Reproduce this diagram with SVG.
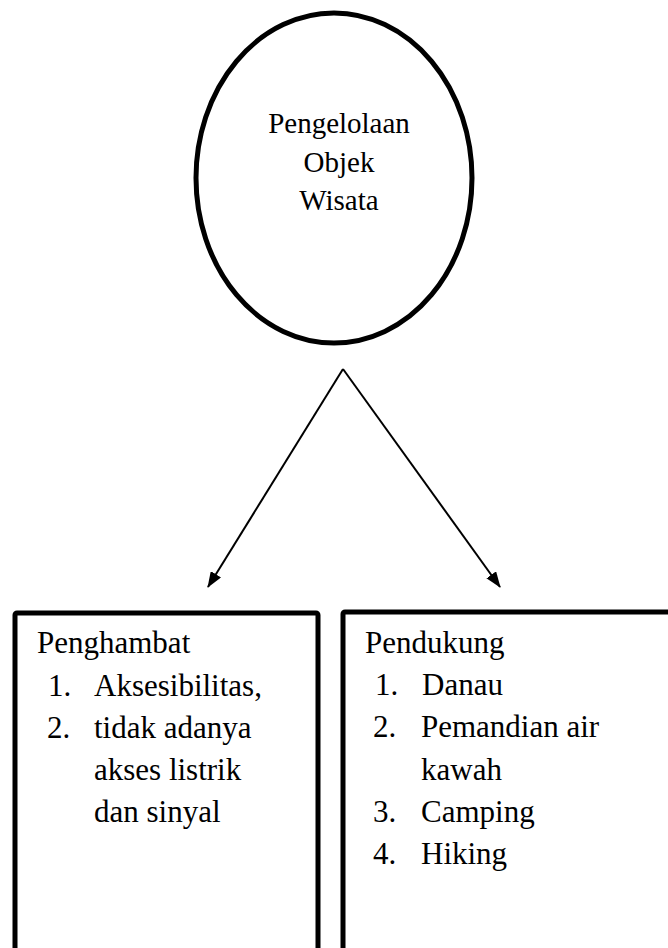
<svg xmlns="http://www.w3.org/2000/svg" width="668" height="948" viewBox="0 0 668 948" font-family="Liberation Serif, serif">
<style>
.c{font-size:29px;text-anchor:middle}
.b{font-size:31px}
.shape{fill:#fff;stroke:#000;stroke-width:5}
.conn{stroke:#000;stroke-width:2;fill:none}
</style>
<defs>
<marker id="arr" viewBox="0 0 16 12" refX="15" refY="6" markerWidth="16" markerHeight="12" markerUnits="userSpaceOnUse" orient="auto">
<path d="M0,0 L16,6 L0,12 z" fill="#000"/>
</marker>
</defs>
<rect width="668" height="948" fill="#fff"/>
<g id="center">
<ellipse class="shape" cx="334" cy="178" rx="138" ry="165"/>
<text class="c" x="339" y="133" font-family="Liberation Serif">Pengelolaan</text>
<text class="c" x="339" y="172" font-family="Liberation Serif">Objek</text>
<text class="c" x="339" y="210" font-family="Liberation Serif">Wisata</text>
</g>
<g id="connectors">
<line class="conn" x1="343" y1="369" x2="208" y2="587" marker-end="url(#arr)"/>
<line class="conn" x1="343" y1="369" x2="500" y2="587" marker-end="url(#arr)"/>
</g>
<g id="penghambat" font-family="Liberation Serif">
<rect class="shape" x="15" y="613" width="303" height="360" rx="2"/>
<text class="b" x="37" y="653">Penghambat</text>
<text class="b" x="48" y="696">1.</text>
<text class="b" x="94" y="696">Aksesibilitas,</text>
<text class="b" x="47" y="738">2.</text>
<text class="b" x="94" y="738">tidak adanya</text>
<text class="b" x="94" y="780">akses listrik</text>
<text class="b" x="94" y="822">dan sinyal</text>
</g>
<g id="pendukung" font-family="Liberation Serif">
<rect class="shape" x="343" y="612" width="360" height="360" rx="2"/>
<text class="b" x="365" y="653">Pendukung</text>
<text class="b" x="375" y="695">1.</text>
<text class="b" x="422" y="695">Danau</text>
<text class="b" x="373" y="737">2.</text>
<text class="b" x="421" y="737">Pemandian air</text>
<text class="b" x="421" y="780">kawah</text>
<text class="b" x="373" y="822">3.</text>
<text class="b" x="421" y="822">Camping</text>
<text class="b" x="373" y="864">4.</text>
<text class="b" x="421" y="864">Hiking</text>
</g>
</svg>
